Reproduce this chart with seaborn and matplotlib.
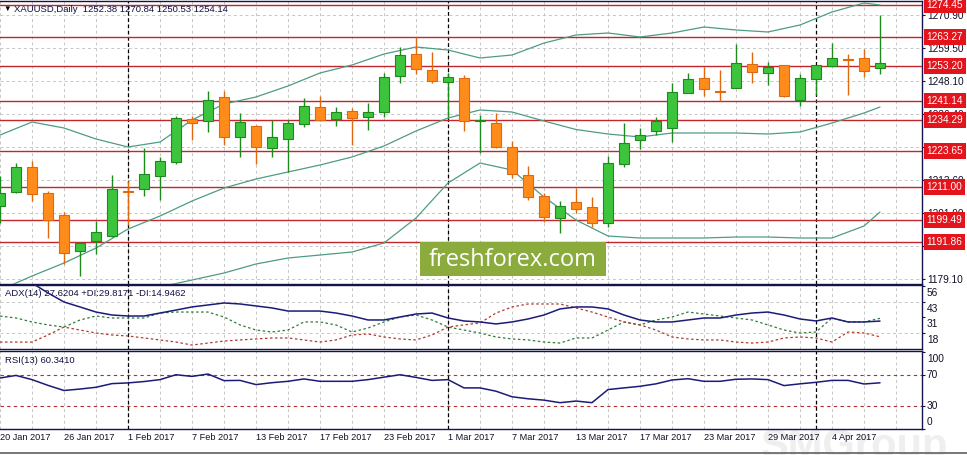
import numpy as np
import pandas as pd
import matplotlib
matplotlib.use("Agg")
import matplotlib.pyplot as plt
import seaborn as sns
from matplotlib.patches import Rectangle
from matplotlib.lines import Line2D
from matplotlib.transforms import ScaledTranslation, blended_transform_factory

sns.set_theme(style="white")
plt.rcParams["font.family"] = ["Liberation Sans", "DejaVu Sans"]

# ---------------- data ----------------
dates = pd.bdate_range("2017-01-20", "2017-04-07")
date_labels = ["20 Jan 2017", "26 Jan 2017", "1 Feb 2017", "7 Feb 2017", "13 Feb 2017",
               "17 Feb 2017", "23 Feb 2017", "1 Mar 2017", "7 Mar 2017", "13 Mar 2017",
               "17 Mar 2017", "23 Mar 2017", "29 Mar 2017", "4 Apr 2017"]

opens = [1204.40, 1209.28, 1217.99, 1208.93, 1201.26, 1188.72, 1192.20, 1193.94, 1209.80, 1210.32,
         1214.85, 1219.73, 1234.72, 1234.02, 1242.38, 1228.45, 1232.28, 1224.61, 1227.75, 1232.98,
         1238.90, 1234.72, 1237.51, 1235.42, 1237.16, 1249.70, 1257.37, 1251.80, 1247.61, 1249.01,
         1233.85, 1233.33, 1224.96, 1215.20, 1207.88, 1200.22, 1205.79, 1204.05, 1198.47, 1219.04,
         1227.40, 1230.54, 1231.58, 1243.78, 1249.01, 1244.65, 1245.52, 1253.89, 1250.75, 1253.54,
         1241.34, 1248.66, 1253.19, 1255.46, 1255.98, 1252.38]
highs = [1214.85, 1219.38, 1220.08, 1209.63, 1202.31, 1191.85, 1199.17, 1215.20, 1213.11, 1224.61,
         1221.48, 1235.76, 1235.76, 1244.48, 1244.48, 1236.81, 1232.63, 1234.37, 1234.37, 1242.04,
         1242.73, 1238.90, 1238.55, 1240.29, 1250.75, 1259.81, 1263.30, 1258.07, 1250.75, 1250.05,
         1236.11, 1236.81, 1227.05, 1218.34, 1208.93, 1206.14, 1210.67, 1207.54, 1221.82, 1233.33,
         1231.58, 1235.42, 1247.27, 1250.75, 1252.84, 1251.80, 1260.84, 1258.07, 1254.58, 1253.54,
         1250.40, 1253.54, 1261.18, 1257.37, 1259.11, 1270.84]
lows = [1198.47, 1208.93, 1206.14, 1193.25, 1184.19, 1180.01, 1187.67, 1193.60, 1197.78, 1207.88,
        1206.49, 1219.04, 1227.40, 1230.19, 1225.66, 1221.48, 1219.04, 1221.48, 1216.25, 1231.93,
        1234.02, 1232.28, 1225.66, 1230.89, 1235.42, 1247.27, 1250.40, 1247.27, 1235.42, 1230.54,
        1222.87, 1224.61, 1214.16, 1206.49, 1198.82, 1194.99, 1201.96, 1197.08, 1197.08, 1217.99,
        1224.26, 1229.14, 1226.70, 1243.78, 1242.73, 1240.99, 1245.52, 1247.27, 1246.57, 1242.38,
        1239.25, 1243.08, 1253.19, 1243.08, 1249.36, 1250.53]
closes = [1208.93, 1217.99, 1208.58, 1199.52, 1188.02, 1191.51, 1195.34, 1210.32, 1209.45, 1215.55,
          1220.08, 1235.07, 1233.33, 1241.34, 1228.45, 1233.67, 1224.96, 1228.45, 1233.33, 1239.25,
          1234.37, 1237.16, 1235.07, 1237.16, 1249.36, 1257.02, 1252.14, 1247.96, 1249.36, 1234.02,
          1234.20, 1224.96, 1215.55, 1207.54, 1200.57, 1204.40, 1203.35, 1198.47, 1219.38, 1226.35,
          1229.14, 1234.02, 1244.13, 1248.66, 1245.17, 1244.30, 1254.24, 1251.10, 1252.84, 1242.73,
          1249.01, 1253.54, 1255.98, 1255.11, 1251.45, 1254.14]

band_pos = [0, 2, 4, 6, 8, 10, 12, 14, 16, 18, 20, 22, 24, 26, 28, 30, 32, 34, 36, 38, 40,
            42, 44, 46, 48, 50, 52, 54, 55]
bb_upper = [1229.14, 1233.67, 1231.58, 1227.75, 1224.96, 1226.70, 1234.37, 1239.95, 1242.39, 1246.22,
            1250.75, 1253.54, 1257.37, 1259.81, 1258.76, 1255.98, 1257.02, 1261.18, 1263.99, 1264.69,
            1263.30, 1264.69, 1266.78, 1265.74, 1265.04, 1267.48, 1272.01, 1275.14, 1274.45]
bb_mid = [1175.13, 1180.00, 1184.53, 1189.76, 1196.38, 1200.91, 1206.14, 1210.67, 1213.81, 1216.25,
          1218.69, 1221.48, 1225.31, 1230.54, 1235.07, 1237.86, 1237.16, 1234.02, 1231.06, 1229.49,
          1228.45, 1229.84, 1229.84, 1229.84, 1229.49, 1230.19, 1233.33, 1236.81, 1238.90]
bb_lower = [np.nan, np.nan, np.nan, np.nan, np.nan, 1176.17, 1178.61, 1181.05, 1184.19, 1186.28,
            1187.32, 1188.37, 1191.51, 1200.22, 1212.41, 1219.38, 1216.95, 1207.54, 1199.52, 1193.94,
            1193.25, 1193.25, 1193.25, 1193.60, 1193.60, 1193.25, 1193.25, 1197.43, 1202.31]

levels = [1274.45, 1263.27, 1253.20, 1241.14, 1234.29, 1223.65, 1211.00, 1199.49, 1191.86]
price_ticks = [1270.90, 1259.50, 1248.10, 1236.40, 1224.90, 1213.60, 1201.90, 1190.30, 1179.10]
separators = [8, 28, 51]

adx = [62.4, 59.9, 58.3, 50.3, 43.0, 39.0, 34.9, 32.5, 31.7, 31.7,
       34.1, 36.5, 39.0, 40.6, 42.2, 41.4, 39.8, 38.2, 35.7, 35.7,
       35.7, 34.1, 31.7, 28.5, 28.5, 30.9, 33.3, 34.1, 30.1, 27.7,
       26.9, 25.3, 26.9, 29.3, 32.5, 37.4, 39.0, 39.0, 37.4, 32.5,
       28.5, 26.9, 26.9, 28.5, 30.1, 30.1, 32.5, 34.1, 34.9, 32.5,
       29.3, 27.7, 30.1, 26.9, 26.9, 27.62]
plus_di = [31.7, 30.1, 26.9, 24.5, 22.8, 28.5, 31.7, 30.1, 30.1, 30.1,
           34.1, 34.9, 34.9, 34.9, 30.9, 24.5, 20.4, 18.8, 20.4, 26.9,
           26.9, 24.5, 18.8, 22.0, 26.9, 30.9, 32.5, 28.5, 22.8, 20.4,
           18.0, 14.8, 13.2, 12.4, 10.7, 9.9, 14.0, 14.0, 20.4, 26.9,
           24.5, 28.5, 30.9, 34.9, 33.3, 31.7, 30.1, 28.5, 24.5, 20.4,
           18.0, 18.8, 30.1, 26.9, 26.9, 29.82]
minus_di = [10.7, 10.7, 10.7, 16.4, 22.8, 20.4, 18.0, 16.4, 15.6, 14.0,
            12.4, 10.7, 8.3, 9.9, 11.5, 12.4, 13.2, 14.0, 14.0, 12.4,
            10.7, 12.4, 16.4, 17.2, 14.8, 13.2, 12.4, 16.4, 22.8, 24.5,
            26.1, 34.1, 39.0, 41.4, 41.4, 41.4, 38.2, 34.9, 30.9, 26.9,
            24.5, 20.4, 14.8, 13.2, 12.4, 12.4, 10.7, 9.9, 10.7, 14.0,
            14.8, 14.0, 10.7, 18.8, 18.0, 14.95]
adx_ticks = [56, 43, 31, 18]
adx_grid = [43, 18]

rsi = [66.6, 70.0, 64.5, 57.0, 50.3, 52.2, 54.5, 59.3, 60.2, 62.0,
       64.5, 70.9, 68.7, 71.8, 63.2, 63.5, 58.0, 60.5, 62.3, 65.4,
       62.3, 62.3, 62.3, 64.5, 67.7, 70.9, 67.4, 63.5, 64.5, 53.7,
       53.7, 49.4, 42.1, 39.5, 37.7, 34.4, 36.5, 34.4, 51.5, 53.7,
       55.8, 59.0, 64.0, 65.7, 62.3, 62.3, 65.0, 65.4, 64.5, 56.7,
       59.0, 61.0, 63.5, 63.5, 58.8, 60.34]
rsi_ticks = [100, 70, 30, 0]
rsi_levels = [70, 30]

header = "XAUUSD,Daily  1252.38 1270.84 1250.53 1254.14"
adx_header = "ADX(14) 27.6204 +DI:29.8171 -DI:14.9462"
rsi_header = "RSI(13) 60.3410"

# ---------------- style ----------------
W, H = 967, 455
NAVY = "#14144a"
GRID = "#c6c6c6"
TXT = "#101028"
GREEN, GREEN_E = "#3cc43c", "#1d8a1d"
ORANGE, ORANGE_E = "#ff8c1a", "#e0680f"
LEVEL = "#c0282d"
BB = "#4e9c82"

fig = plt.figure(figsize=(W / 100, H / 100), dpi=100)
fig.patch.set_facecolor("white")


def rect(x0, y0, x1, y1):
    return [x0 / W, 1 - y1 / H, (x1 - x0) / W, (y1 - y0) / H]


ax_p = fig.add_axes(rect(0, 1, 922, 284))
ax_a = fig.add_axes(rect(0, 285, 922, 349))
ax_r = fig.add_axes(rect(0, 351, 922, 429))

xmax = 922 / 16
even_pos = np.arange(0, 58, 2)
dash = (0, (3, 3))
for ax in (ax_p, ax_a, ax_r):
    ax.set_xlim(0, xmax)
    ax.set_facecolor("white")
    ax.set_xticks(even_pos)
    ax.grid(True, axis="x", color=GRID, ls=dash, lw=0.7)
    ax.set_axisbelow(True)
    for s in ax.spines.values():
        s.set_color(NAVY)
        s.set_linewidth(1.0)
    ax.spines["left"].set_visible(False)
    ax.yaxis.tick_right()
    ax.tick_params(axis="y", direction="out", length=2.2, width=0.8, color=NAVY,
                   labelsize=7.3, labelcolor=TXT, pad=1.4)
    for sep in separators:
        ax.axvline(sep, color="black", ls=(0, (3, 2)), lw=0.9, zorder=1.5)

# ---------------- price panel ----------------
idx = np.arange(len(opens))
o = np.array(opens)
c = np.array(closes)
up = c >= o
body_bottom = np.minimum(o, c)
body_h = np.maximum(np.abs(c - o), 0.3)
ax_p.vlines(idx, lows, highs, colors=np.where(up, GREEN_E, ORANGE_E), lw=1.0, zorder=4)
ax_p.bar(idx, body_h, bottom=body_bottom, width=0.62,
         color=np.where(up, GREEN, ORANGE), edgecolor=np.where(up, GREEN_E, ORANGE_E),
         linewidth=0.8, zorder=5)

bands = pd.DataFrame({"pos": band_pos, "upper": bb_upper, "mid": bb_mid, "lower": bb_lower})
for col in ["upper", "mid", "lower"]:
    sns.lineplot(data=bands, x="pos", y=col, ax=ax_p, color=BB, lw=0.9,
                 estimator=None, legend=False, zorder=3)

for lv in levels:
    ax_p.axhline(lv, color=LEVEL, lw=1.0, zorder=2.5)

ax_p.set_ylim(1177.22, 1275.84)
ax_p.set_yticks(price_ticks)
ax_p.set_yticklabels([f"{v:.2f}" for v in price_ticks])
ax_p.grid(True, axis="y", color=GRID, ls=dash, lw=0.7)
ax_p.tick_params(axis="x", length=0, labelbottom=False)
ax_p.set_xlabel("")
ax_p.set_ylabel("")

tr_p = blended_transform_factory(ax_p.transAxes, ax_p.transData)
for lv in levels:
    ax_p.text(1.0 + 4.5 / 922, lv, f"{lv:.2f}", transform=tr_p, ha="left", va="center",
              color="white", fontsize=7.3, clip_on=False, zorder=20,
              bbox=dict(boxstyle="square,pad=0.28", fc="#e3141c", ec="none"))

fig.text(3 / W, 1 - 9.5 / H, "\u25bc", fontsize=5.5, color="black", va="center", ha="left")
fig.text(14 / W, 1 - 9.5 / H, header, fontsize=6.8, color="#101040", va="center", ha="left")

# ---------------- ADX panel ----------------
adx_df = pd.DataFrame({"i": idx, "adx": adx, "pdi": plus_di, "mdi": minus_di})
sns.lineplot(data=adx_df, x="i", y="adx", ax=ax_a, color="#1b1b78", lw=1.1,
             estimator=None, legend=False, zorder=4)
sns.lineplot(data=adx_df, x="i", y="pdi", ax=ax_a, color="#2f7a36", lw=0.9,
             estimator=None, legend=False, zorder=3, linestyle=(0, (2, 2)))
sns.lineplot(data=adx_df, x="i", y="mdi", ax=ax_a, color="#b03a2e", lw=0.9,
             estimator=None, legend=False, zorder=3, linestyle=(0, (2, 2)))
ax_a.set_ylim(5.1, 56.7)
ax_a.set_yticks(adx_ticks)
ax_a.set_yticklabels([])
for g in adx_grid:
    ax_a.axhline(g, color=GRID, ls=dash, lw=0.7, zorder=0.5)
ax_a.tick_params(axis="x", length=0, labelbottom=False)
ax_a.set_xlabel("")
ax_a.set_ylabel("")
tr_a = blended_transform_factory(ax_a.transAxes, ax_a.transData)
for v in adx_ticks:
    ax_a.text(1.0, v, str(v), ha="left", va="center", fontsize=7.3, color=TXT, clip_on=False,
              transform=tr_a + ScaledTranslation(5 / 100, -7 / 100, fig.dpi_scale_trans))
ax_a.text(5 / 922, 0.86, adx_header, transform=ax_a.transAxes, fontsize=6.8,
          color="#101040", ha="left", va="center")

# ---------------- RSI panel ----------------
rsi_df = pd.DataFrame({"i": idx, "rsi": rsi})
sns.lineplot(data=rsi_df, x="i", y="rsi", ax=ax_r, color="#1b1b78", lw=1.1,
             estimator=None, legend=False, zorder=4)
for lv in rsi_levels:
    ax_r.axhline(lv, color="#b03030", ls=dash, lw=0.8, zorder=1)
ax_r.set_ylim(1.2, 101.9)
ax_r.set_yticks(rsi_ticks)
ax_r.set_yticklabels([])
tr_r = blended_transform_factory(ax_r.transAxes, ax_r.transData)
rsi_label_shift = {100: -6.5, 70: 0, 30: 0, 0: 7}
for v in rsi_ticks:
    ax_r.text(1.0, v, str(v), ha="left", va="center", fontsize=7.3, color=TXT, clip_on=False,
              transform=tr_r + ScaledTranslation(5 / 100, rsi_label_shift[v] / 100,
                                                 fig.dpi_scale_trans))
ax_r.text(5 / 922, 0.88, rsi_header, transform=ax_r.transAxes, fontsize=6.8,
          color="#101040", ha="left", va="center")
xlabels = []
for p in even_pos:
    k = p // 4
    xlabels.append(date_labels[k] if (p % 4 == 0 and k < len(date_labels)) else "")
ax_r.set_xticks(even_pos)
ax_r.set_xticklabels(xlabels, ha="left", fontsize=6.6, color=TXT)
ax_r.tick_params(axis="x", length=0, pad=3)
ax_r.set_xlabel("")
ax_r.set_ylabel("")

# ---------------- overlays ----------------
fig.patches.append(Rectangle((420 / W, 1 - 276 / H), 186 / W, 34 / H,
                             transform=fig.transFigure, facecolor="#8bab3c",
                             edgecolor="none", zorder=30))
fig.text(513 / W, 1 - 260 / H, "freshforex.com", fontsize=17, color="white",
         family=["Open Sans", "DejaVu Sans"], ha="center", va="center", zorder=31)
fig.text(855 / W, 1 - 458 / H, "SMGroup", fontsize=30, fontweight="bold", color="#efefef",
         ha="center", va="baseline", zorder=-1)
fig.lines.append(Line2D([0, 1], [1 - 453 / H, 1 - 453 / H], transform=fig.transFigure,
                        color="#606060", lw=1.2))

fig.savefig("out.png", dpi=100)
